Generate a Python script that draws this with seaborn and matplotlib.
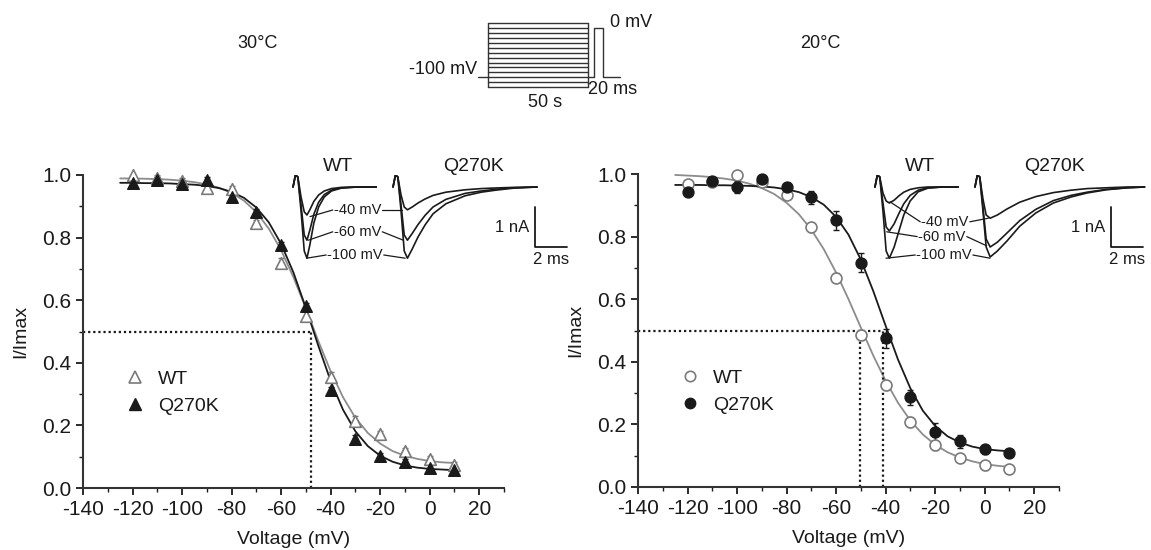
import numpy as np
import seaborn as sns
import matplotlib.pyplot as plt
from matplotlib.lines import Line2D
from matplotlib.ticker import MultipleLocator

W, H = 1151, 550

# conditioning voltages (mV) and normalised currents
voltages = [-120, -110, -100, -90, -80, -70, -60, -50, -40, -30, -20, -10, 0, 10]
wt30 = [1.0, 0.99, 0.98, 0.96, 0.955, 0.847, 0.72, 0.55, 0.355, 0.215, 0.173, 0.118, 0.093, 0.074]
q30 = [0.976, 0.985, 0.97, 0.985, 0.93, 0.882, 0.776, 0.58, 0.313, 0.158, 0.101, 0.082, 0.064, 0.056]
wt30_err = [0.01, 0.01, 0.01, 0.01, 0.01, 0.01, 0.015, 0.015, 0.015, 0.015, 0.01, 0.01, 0.01, 0.01]
q30_err = [0.01, 0.01, 0.01, 0.01, 0.01, 0.01, 0.01, 0.01, 0.01, 0.01, 0.01, 0.01, 0.01, 0.01]
wt20 = [0.969, 0.975, 0.996, 0.975, 0.934, 0.83, 0.669, 0.486, 0.325, 0.208, 0.133, 0.094, 0.069, 0.057]
q20 = [0.941, 0.977, 0.958, 0.984, 0.958, 0.925, 0.852, 0.717, 0.475, 0.286, 0.176, 0.146, 0.12, 0.11]
wt20_err = [0.01, 0.01, 0.01, 0.01, 0.01, 0.015, 0.015, 0.015, 0.015, 0.015, 0.015, 0.01, 0.015, 0.01]
q20_err = [0.01, 0.01, 0.02, 0.01, 0.012, 0.02, 0.03, 0.03, 0.03, 0.025, 0.03, 0.02, 0.015, 0.012]

# fitted Boltzmann curves, every 5 mV
fit_voltages = [-125, -120, -115, -110, -105, -100, -95, -90, -85, -80, -75, -70, -65, -60,
                -55, -50, -45, -40, -35, -30, -25, -20, -15, -10, -5, 0, 5, 10]
wt30_fit = [0.989, 0.989, 0.988, 0.987, 0.985, 0.982, 0.977, 0.970, 0.959, 0.943, 0.918, 0.881, 0.829, 0.760,
            0.673, 0.574, 0.470, 0.373, 0.290, 0.224, 0.176, 0.142, 0.118, 0.103, 0.093, 0.086, 0.082, 0.080]
q30_fit = [0.975, 0.975, 0.974, 0.974, 0.973, 0.971, 0.969, 0.965, 0.958, 0.946, 0.927, 0.896, 0.849, 0.780,
           0.688, 0.575, 0.455, 0.342, 0.250, 0.181, 0.134, 0.103, 0.084, 0.072, 0.065, 0.061, 0.059, 0.057]
wt20_fit = [0.997, 0.995, 0.993, 0.990, 0.985, 0.979, 0.969, 0.955, 0.936, 0.908, 0.871, 0.822, 0.760, 0.685,
            0.600, 0.509, 0.420, 0.339, 0.269, 0.212, 0.168, 0.135, 0.111, 0.094, 0.082, 0.073, 0.068, 0.064]
q20_fit = [0.965, 0.965, 0.965, 0.964, 0.964, 0.963, 0.962, 0.960, 0.957, 0.951, 0.942, 0.926, 0.902, 0.863,
           0.806, 0.726, 0.626, 0.515, 0.407, 0.315, 0.244, 0.195, 0.162, 0.142, 0.129, 0.121, 0.117, 0.114]

vhalf30 = [-48]
vhalf20 = [-50.5, -41]

# current traces (time in ms, current in nA) at -40, -60, -100 mV
trace_t_wt30 = [0, 0.15, 0.3, 0.5, 0.7, 0.87, 1.05, 1.3, 1.6, 1.95, 2.4, 3.0, 4.0, 5.2]
trace_wt30 = {
    "-40": [0, 0.3, 0.25, -0.25, -0.62, -0.7, -0.57, -0.36, -0.2, -0.1, -0.04, -0.01, 0, 0],
    "-60": [0, 0.3, 0.25, -0.45, -1.2, -1.33, -1.08, -0.68, -0.38, -0.19, -0.08, -0.02, 0, 0],
    "-100": [0, 0.3, 0.25, -0.6, -1.6, -1.78, -1.45, -0.9, -0.5, -0.25, -0.1, -0.03, 0, 0],
}
trace_t_q30 = [0, 0.15, 0.3, 0.5, 0.7, 0.9, 1.2, 1.56, 2.0, 2.5, 3.3, 4.5, 5.5, 6.4, 7.5, 9.0]
trace_q30 = {
    "-40": [0, 0.3, 0.25, -0.2, -0.5, -0.57, -0.5, -0.4, -0.3, -0.21, -0.13, -0.07, -0.04, -0.025, -0.01, 0],
    "-60": [0, 0.3, 0.25, -0.45, -1.2, -1.33, -1.16, -0.94, -0.71, -0.5, -0.31, -0.16, -0.1, -0.06, -0.02, 0],
    "-100": [0, 0.3, 0.25, -0.6, -1.6, -1.78, -1.55, -1.25, -0.95, -0.67, -0.42, -0.22, -0.13, -0.08, -0.03, 0],
}
trace_t_wt20 = [0, 0.15, 0.3, 0.5, 0.7, 0.9, 1.2, 1.5, 1.8, 2.2, 2.7, 3.3, 4.2, 5.2]
trace_wt20 = {
    "-40": [0, 0.3, 0.25, -0.15, -0.35, -0.4, -0.33, -0.22, -0.13, -0.06, -0.02, 0, 0, 0],
    "-60": [0, 0.3, 0.25, -0.4, -1.0, -1.1, -0.92, -0.66, -0.42, -0.21, -0.08, -0.02, 0, 0],
    "-100": [0, 0.3, 0.25, -0.6, -1.6, -1.78, -1.5, -1.1, -0.7, -0.35, -0.12, -0.03, 0, 0],
}
trace_t_q20 = [0, 0.15, 0.3, 0.5, 0.7, 0.95, 1.4, 2.0, 2.8, 3.8, 4.9, 6.0, 7.0, 8.2, 9.5, 10.6]
trace_q20 = {
    "-40": [0, 0.3, 0.25, -0.3, -0.7, -0.78, -0.7, -0.55, -0.38, -0.24, -0.14, -0.08, -0.04, -0.02, 0, 0],
    "-60": [0, 0.3, 0.25, -0.5, -1.3, -1.5, -1.38, -1.15, -0.84, -0.56, -0.34, -0.21, -0.13, -0.06, -0.02, 0],
    "-100": [0, 0.3, 0.25, -0.6, -1.5, -1.75, -1.6, -1.35, -0.98, -0.65, -0.4, -0.25, -0.15, -0.07, -0.02, 0],
}

# pulse protocol
holding_mv = -100
test_mv = 0

sns.set_style("ticks")
plt.rcParams["font.family"] = ["Liberation Sans", "DejaVu Sans"]
plt.rcParams["font.size"] = 14
plt.rcParams["axes.unicode_minus"] = False

ink = "#1a1a1a"
wt_color = "#7a7a7a"
plt.rcParams["text.color"] = ink
plt.rcParams["axes.labelcolor"] = ink
plt.rcParams["xtick.color"] = ink
plt.rcParams["ytick.color"] = ink

fig = plt.figure(figsize=(W / 100, H / 100), dpi=100)


def px_rect(x0, y0, x1, y1):
    return [x0 / W, 1 - y1 / H, (x1 - x0) / W, (y1 - y0) / H]


def draw_panel(rect, wt, wt_err, q, q_err, wt_fit, q_fit, marker, size, vh_list, h_end):
    ax = fig.add_axes(rect)
    sns.lineplot(x=fit_voltages, y=wt_fit, ax=ax, color="#8c8c8c", linewidth=1.3)
    sns.lineplot(x=fit_voltages, y=q_fit, ax=ax, color=ink, linewidth=1.3)
    ax.errorbar(voltages, wt, yerr=wt_err, fmt="none", ecolor=wt_color, elinewidth=1, capsize=2.5, zorder=3)
    ax.errorbar(voltages, q, yerr=q_err, fmt="none", ecolor=ink, elinewidth=1, capsize=2.5, zorder=3)
    sns.scatterplot(x=voltages, y=wt, ax=ax, marker=marker, s=size, facecolor="white",
                    edgecolor=wt_color, linewidth=1.2, zorder=4, clip_on=False)
    sns.scatterplot(x=voltages, y=q, ax=ax, marker=marker, s=size, facecolor=ink,
                    edgecolor=ink, linewidth=1.0, zorder=5, clip_on=False)

    dots = dict(color=ink, linestyle=(0, (1, 1.3)), linewidth=1.6, zorder=2)
    ax.plot([-140, h_end], [0.5, 0.5], **dots)
    for vh in vh_list:
        ax.plot([vh, vh], [0, 0.5], **dots)

    ax.set_xlim(-140, 30)
    ax.set_ylim(0, 1.0)
    ax.set_xticks([-140, -120, -100, -80, -60, -40, -20, 0, 20])
    ax.set_yticks([0.0, 0.2, 0.4, 0.6, 0.8, 1.0])
    ax.set_yticklabels(["0.0", "0.2", "0.4", "0.6", "0.8", "1.0"])
    ax.xaxis.set_minor_locator(MultipleLocator(10))
    ax.yaxis.set_minor_locator(MultipleLocator(0.1))
    ax.tick_params(which="major", length=5, width=1.3, labelsize=15)
    ax.tick_params(which="minor", length=3, width=1.0)
    for s in ("left", "bottom"):
        ax.spines[s].set_linewidth(1.5)
        ax.spines[s].set_color("#333333")
    sns.despine(ax=ax)
    ax.set_xlabel("Voltage (mV)", fontsize=14)
    ax.set_ylabel("I/Imax", fontsize=14)
    ax.xaxis.set_label_coords(0.5, -0.137)
    ax.yaxis.set_label_coords(-0.128, 0.5)

    handles = [
        Line2D([], [], marker=marker, linestyle="none", markersize=np.sqrt(size) * 0.95,
               markerfacecolor="white", markeredgecolor=wt_color, markeredgewidth=1.2),
        Line2D([], [], marker=marker, linestyle="none", markersize=np.sqrt(size) * 0.95,
               markerfacecolor=ink, markeredgecolor=ink),
    ]
    ax.legend(handles, ["WT", "Q270K"], loc="center left", bbox_to_anchor=(0.1, 0.305),
              frameon=False, fontsize=14, handlelength=1.0, handletextpad=0.7,
              labelspacing=0.45, borderpad=0, borderaxespad=0)
    return ax


ax1 = draw_panel(px_rect(83, 175, 504, 488), wt30, wt30_err, q30, q30_err, wt30_fit, q30_fit,
                 "^", 70, vhalf30, vhalf30[0])
ax2 = draw_panel(px_rect(638, 174, 1059, 487), wt20, wt20_err, q20, q20_err, wt20_fit, q20_fit,
                 "o", 62, vhalf20, vhalf20[1])


def draw_traces(box, groups, labels, bar_t):
    ins = fig.add_axes(px_rect(*box))
    ins.set_xlim(0, 17.5)
    ins.set_ylim(-2.2, 0.3)
    ins.axis("off")
    for offset, t, traces, name in groups:
        for key in ["-40", "-60", "-100"]:
            sns.lineplot(x=np.array(t) + offset, y=traces[key], ax=ins, color=ink, linewidth=1.2)
        ins.text(offset + 2.8 if name == "WT" else offset + 5.0, 0.5, name, ha="center",
                 va="center", fontsize=14, clip_on=False)
    line = dict(color=ink, linewidth=0.9)
    for text, tc, ic, half, left_pt, right_pt in labels:
        ins.text(tc, ic, text, ha="center", va="center", fontsize=10.5)
        ins.plot([left_pt[0], tc - half], [left_pt[1], ic], **line)
        ins.plot([tc + half, right_pt[0]], [ic, right_pt[1]], **line)
    ins.plot([bar_t, bar_t, bar_t + 2], [-0.5, -1.5, -1.5], color=ink, linewidth=1.3, clip_on=False)
    ins.text(bar_t - 0.35, -1.0, "1 nA", ha="right", va="center", fontsize=12)
    ins.text(bar_t + 1.0, -1.62, "2 ms", ha="center", va="top", fontsize=12, clip_on=False)


draw_traces((290, 175, 570, 275),
            [(0.19, trace_t_wt30, trace_wt30, "WT"), (6.44, trace_t_q30, trace_q30, "Q270K")],
            [("-40 mV", 4.22, -0.575, 1.55, (1.25, -0.74), (6.98, -0.575)),
             ("-60 mV", 4.22, -1.12, 1.55, (1.15, -1.33), (7.08, -1.33)),
             ("-100 mV", 4.06, -1.7, 1.8, (1.04, -1.78), (7.2, -1.78))],
            15.3)
draw_traces((870, 175, 1150, 275),
            [(0.31, trace_t_wt20, trace_wt20, "WT"), (6.56, trace_t_q20, trace_q20, "Q270K")],
            [("-40 mV", 4.69, -0.87, 1.55, (1.25, -0.37), (7.4, -0.78)),
             ("-60 mV", 4.5, -1.24, 1.55, (1.04, -1.12), (7.29, -1.47)),
             ("-100 mV", 4.63, -1.7, 1.8, (1.0, -1.78), (7.5, -1.78))],
            15.06)

# protocol schematic
pax = fig.add_axes(px_rect(460, 10, 640, 100))
pax.set_xlim(-0.28, 1.52)
pax.set_ylim(-146.5, 37.1)
pax.axis("off")
proto = dict(color="#333333", linewidth=1.0)
for v in voltages:
    pax.plot([0, 1], [v, v], **proto)
pax.plot([0, 0], [min(voltages), max(voltages)], **proto)
pax.plot([1, 1], [min(voltages), max(voltages)], **proto)
pax.plot([-0.1, 0], [holding_mv, holding_mv], **proto)
pax.plot([1, 1.06, 1.06, 1.15, 1.15, 1.32],
         [holding_mv, holding_mv, test_mv, test_mv, holding_mv, holding_mv], **proto)
pax.text(-0.11, -84, "-100 mV", ha="right", va="center", fontsize=13)
pax.text(1.22, 10.6, "0 mV", ha="left", va="center", fontsize=13)
pax.text(1.0, -126, "20 ms", ha="left", va="center", fontsize=13)
pax.text(0.57, -152, "50 s", ha="center", va="center", fontsize=13)

fig.text(258 / W, 1 - 43 / H, "30°C", ha="center", va="center", fontsize=13)
fig.text(820 / W, 1 - 43 / H, "20°C", ha="center", va="center", fontsize=13)

fig.savefig("out.png", dpi=100)
